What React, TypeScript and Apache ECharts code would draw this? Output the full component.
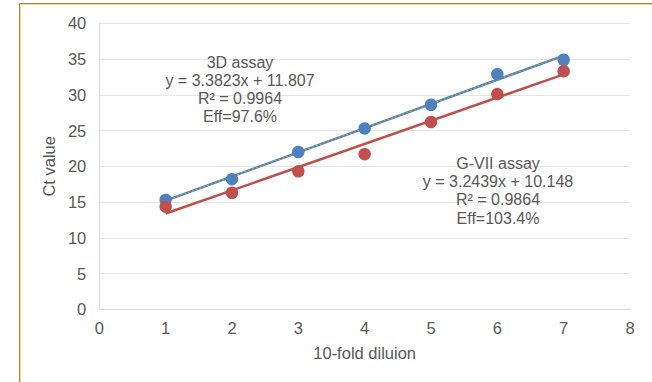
import React, { useEffect, useRef } from "react";
import * as echarts from "echarts";

const dilutions = [1, 2, 3, 4, 5, 6, 7];
const ct3D = [15.3, 18.2, 22.0, 25.3, 28.6, 32.9, 34.9];
const ctGVII = [14.35, 16.3, 19.3, 21.7, 26.2, 30.1, 33.3];
const fit3D = { slope: 3.3823, intercept: 11.807 };
const fitGVII = { slope: 3.2439, intercept: 10.148 };
const label3D = ["3D assay", "y = 3.3823x + 11.807", "R² = 0.9964", "Eff=97.6%"];
const labelGVII = ["G-VII assay", "y = 3.2439x + 10.148", "R² = 0.9864", "Eff=103.4%"];
const xTicks = [0, 1, 2, 3, 4, 5, 6, 7, 8];
const yTicks = [0, 5, 10, 15, 20, 25, 30, 35, 40];

const FONT = "'Liberation Sans', Arial, sans-serif";
const GRAY = "#595959";

function trend(fit: { slope: number; intercept: number }) {
  const x0 = dilutions[0];
  const x1 = dilutions[dilutions.length - 1];
  return [
    [x0, fit.slope * x0 + fit.intercept],
    [x1, fit.slope * x1 + fit.intercept],
  ];
}

export default function App() {
  const ref = useRef<HTMLDivElement>(null);
  useEffect(() => {
    if (!ref.current) return;
    const chart = echarts.init(ref.current, null, { renderer: "svg" });
    const blue = "#4f81bd";
    const red = "#c0504d";
    chart.setOption({
      animation: false,
      backgroundColor: "#ffffff",
      grid: { left: 99.3, right: 22, top: 23.3, bottom: 72.7, containLabel: false },
      xAxis: {
        type: "value",
        min: xTicks[0],
        max: xTicks[xTicks.length - 1],
        interval: 1,
        name: "10-fold diluion",
        nameLocation: "middle",
        nameGap: 35,
        nameTextStyle: { color: GRAY, fontSize: 16.5, fontFamily: FONT },
        axisLine: { show: true, lineStyle: { color: "#d9d9d9", width: 1 } },
        axisTick: { show: false },
        splitLine: { show: false },
        axisLabel: { color: GRAY, fontSize: 16.5, fontFamily: FONT, margin: 10 },
      },
      yAxis: {
        type: "value",
        min: yTicks[0],
        max: yTicks[yTicks.length - 1],
        interval: 5,
        name: "Ct value",
        nameLocation: "middle",
        nameGap: 38,
        nameTextStyle: { color: GRAY, fontSize: 16.5, fontFamily: FONT },
        axisLine: { show: true, lineStyle: { color: "#d9d9d9", width: 1 } },
        axisTick: { show: false },
        splitLine: { show: true, lineStyle: { color: "#e6e6e6", width: 1 } },
        axisLabel: { color: GRAY, fontSize: 16.5, fontFamily: FONT, margin: 13 },
      },
      series: [
        {
          type: "line",
          data: trend(fit3D),
          showSymbol: false,
          symbol: "none",
          lineStyle: { color: "#4a7ebb", width: 2.5 },
          z: 2,
        },
        {
          type: "line",
          data: trend(fit3D),
          showSymbol: false,
          symbol: "none",
          lineStyle: { color: "#b5a56a", width: 1.2, type: [2, 2] },
          z: 3,
        },
        {
          type: "line",
          data: trend(fitGVII),
          showSymbol: false,
          symbol: "none",
          lineStyle: { color: red, width: 2.5 },
          z: 2,
        },
        {
          type: "scatter",
          data: dilutions.map((x, i) => [x, ct3D[i]]),
          symbolSize: 12.5,
          itemStyle: { color: blue, opacity: 1 },
          z: 4,
        },
        {
          type: "scatter",
          data: dilutions.map((x, i) => [x, ctGVII[i]]),
          symbolSize: 12.5,
          itemStyle: { color: red, opacity: 1 },
          z: 5,
        },
      ],
      graphic: [
        {
          type: "polyline",
          shape: { points: [[19.5, 390], [19.5, 3.5], [660, 3.5]] },
          style: { stroke: "#9c8a4a", lineWidth: 1, fill: null },
          silent: true,
        },
        {
          type: "polyline",
          shape: { points: [[20.5, 390], [20.5, 4.5], [660, 4.5]] },
          style: { stroke: "#eedc96", lineWidth: 1, fill: null },
          silent: true,
        },
        ...label3D.map((t, i) => ({
          type: "text",
          x: 240,
          y: 62 + i * 18,
          style: {
            text: t,
            fill: GRAY,
            font: `16px ${FONT}`,
            align: "center",
            verticalAlign: "middle",
          },
          z: 10,
        })),
        ...labelGVII.map((t, i) => ({
          type: "text",
          x: 498,
          y: 163 + i * 18.4,
          style: {
            text: t,
            fill: GRAY,
            font: `16px ${FONT}`,
            align: "center",
            verticalAlign: "middle",
          },
          z: 10,
        })),
      ],
    });
    return () => chart.dispose();
  }, []);
  return (
    <div
      ref={ref}
      style={{ position: "fixed", left: 0, top: 0, width: 652, height: 382 }}
    />
  );
}
